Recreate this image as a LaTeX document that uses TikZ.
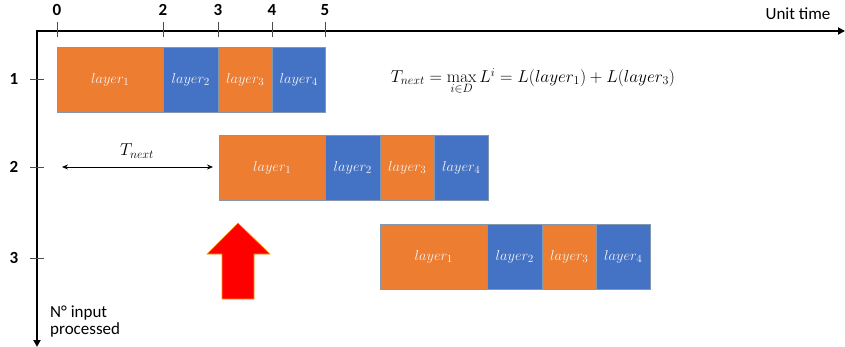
\documentclass[tikz,border=0pt]{standalone}
\usepackage[no-math]{fontspec}
\setmainfont{Carlito}
\usetikzlibrary{arrows.meta}
\definecolor{orng}{HTML}{ED7D31}
\definecolor{blu}{HTML}{4472C4}
\definecolor{boxline}{HTML}{8497B0}
\definecolor{boxtext}{HTML}{F4F4F4}
\begin{document}
\begin{tikzpicture}[x=1pt,y=-1pt,
  lay/.style={draw=boxline, line width=0.6pt, anchor=north west, inner sep=0pt,
    minimum height=65pt, text=boxtext, font=\fontsize{15}{17}\selectfont},
  orb/.style={lay, fill=orng},
  blb/.style={lay, fill=blu},
  wide/.style={minimum width=106pt},
  narrow/.style={minimum width=54pt},
  axis/.style={line width=2.4pt, black},
  tick/.style={line width=0.6pt, black!70},
  lbl/.style={font=\fontsize{17}{19}\selectfont\bfseries, text=black}]
\useasboundingbox (0,0) rectangle (845,347);
% axes
\coordinate (O) at (37,31);
\coordinate (xe) at (845,31);
\coordinate (ye) at (37,347);
\draw[axis, {Triangle[length=7pt,width=7pt]}-{Triangle[length=7pt,width=7pt]}, line join=miter] (ye) -- (O) -- (xe);
% x ticks
\foreach \xx/\t in {57/0,163/2,218/3,272/4,325/5}{
  \coordinate (t\t) at (\xx,22);
  \draw[tick] (t\t) -- ++(0,15);
  \node[lbl] (tl\t) at (\xx,10) {\t};
}
\node[font=\fontsize{17}{19}\selectfont] (ut) at (798,14) {Unit time};
% y ticks
\foreach \yy/\r in {79/1,167/2,258/3}{
  \coordinate (r\r) at (30,\yy);
  \draw[tick] (r\r) -- ++(14,0);
  \node[lbl] (rl\r) at (14,\yy) {\r};
}
\node[font=\fontsize{17}{17}\selectfont, align=left, anchor=north west, inner sep=0pt] (np) at (50,306) {N° input\\processed};
% row 1
\node[orb,wide]   (a1) at (57,47)  {$layer_1$};
\node[blb,narrow,minimum width=55pt] (a2) at (163,47) {$layer_2$};
\node[orb,narrow] (a3) at (218,47) {$layer_3$};
\node[blb,narrow,minimum width=53pt] (a4) at (272,47) {$layer_4$};
% row 2
\node[orb,wide]   (b1) at (219,135) {$layer_1$};
\node[blb,narrow,minimum width=55pt] (b2) at (325,135) {$layer_2$};
\node[orb,narrow] (b3) at (380,135) {$layer_3$};
\node[blb,narrow] (b4) at (434,135) {$layer_4$};
% row 3
\node[orb,wide,minimum width=107pt] (c1) at (380,224) {$layer_1$};
\node[blb,narrow,minimum width=55pt] (c2) at (487,224) {$layer_2$};
\node[orb,narrow] (c3) at (542,224) {$layer_3$};
\node[blb,narrow] (c4) at (596,224) {$layer_4$};
% T_next arrow
\coordinate (ts) at (62,167);
\coordinate (te) at (213,167);
\draw[line width=0.8pt, {Stealth[length=6pt,width=5pt]}-{Stealth[length=6pt,width=5pt]}] (ts) -- (te);
\node[font=\fontsize{18}{20}\selectfont] (tn) at (137,151) {$T_{next}$};
% formula
\node[font=\fontsize{17}{19}\selectfont] (f) at (533,81) {$T_{next}=\max\limits_{\raisebox{-2.5pt}{$\scriptstyle i\in D$}} L^{i} = L(layer_1)+L(layer_3)$};
% red arrow
\draw[fill=red, draw=orange!80!yellow, line width=0.6pt, line join=miter]
  (238,223) -- (270,254) -- (254,254) -- (254,299) -- (222,299) -- (222,254) -- (207,254) -- cycle;
\end{tikzpicture}
\end{document}
